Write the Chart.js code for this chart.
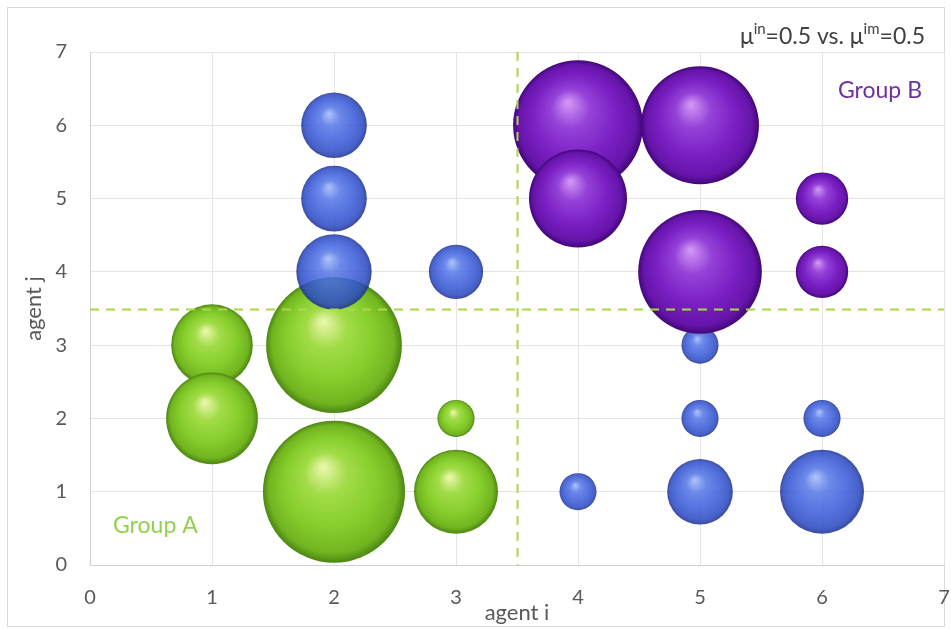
<!DOCTYPE html>
<html>
<head>
<meta charset="utf-8">
<script src="https://cdn.jsdelivr.net/npm/chart.js@4.4.0/dist/chart.umd.min.js"></script>
<style>
  html, body { margin: 0; padding: 0; background: #ffffff; }
  #wrap { width: 951px; height: 630px; }
</style>
</head>
<body>
<div id="wrap"><canvas id="c" width="951" height="630"></canvas></div>
<script>
// Group A (green): agent pairs inside group A
const groupAX = [1, 1, 2, 2, 3, 3];
const groupAY = [3, 2, 3, 1, 1, 2];
const groupAW = [34, 43, 94, 103, 36, 7];

// Cross-group pairs (blue)
const crossX = [2, 2, 2, 3, 4, 5, 6, 5, 6, 5];
const crossY = [6, 5, 4, 4, 1, 1, 1, 2, 2, 3];
const crossW = [22, 22, 29, 15, 7, 22, 36, 7, 7, 7];

// Group B (purple): agent pairs inside group B
const groupBX = [4, 5, 4, 5, 6, 6];
const groupBY = [6, 6, 5, 4, 5, 4];
const groupBW = [86, 71, 49, 78, 14, 14];

const axisTicks = [0, 1, 2, 3, 4, 5, 6, 7];
const splitX = 3.5;
const splitY = 3.5;
const muIn = 0.5;
const muIm = 0.5;

const FONT = 'Lato, "Open Sans", sans-serif';
const TEXT_GREY = '#595959';

// bubble area proportional to weight
function radiusOf(w) { return 7 * Math.sqrt(w); }

function points(xs, ys, ws) {
  return xs.map((x, i) => ({ x: x, y: ys[i], r: radiusOf(ws[i]) }));
}

// shaded sphere fill, centred on the bubble as placed by the scales
function sphereFill(pal) {
  return (ctx) => {
    if (ctx.type !== 'data' || !ctx.raw) return pal.base;
    const chart = ctx.chart;
    const sx = chart.scales.x, sy = chart.scales.y;
    if (!sx || !sy) return pal.base;
    const cx = sx.getPixelForValue(ctx.raw.x);
    const cy = sy.getPixelForValue(ctx.raw.y);
    const r = ctx.raw.r;
    if (!isFinite(cx) || !isFinite(cy) || !isFinite(r) || r <= 0) return pal.base;
    const g = chart.ctx.createRadialGradient(cx - 0.16 * r, cy - 0.36 * r, 0, cx, cy, r);
    g.addColorStop(0, pal.hi);
    g.addColorStop(0.3, pal.light);
    g.addColorStop(0.64, pal.base);
    g.addColorStop(0.9, pal.mid);
    g.addColorStop(1, pal.edge);
    return g;
  };
}

const greenPal  = { hi: '#eef8b0', light: '#a2dc48', base: '#86ce2c', mid: '#72b420', edge: '#4c8612' };
const bluePal   = { hi: 'rgba(160,186,248,0.85)', light: 'rgba(82,116,230,0.85)', base: 'rgba(56,90,218,0.85)', mid: 'rgba(40,70,192,0.85)', edge: 'rgba(24,44,140,0.85)' };
const purplePal = { hi: '#d69af6', light: '#9442d8', base: '#7b20c4', mid: '#6614aa', edge: '#420878' };

const framePlugin = {
  id: 'frame',
  beforeDraw(chart) {
    const c = chart.ctx;
    c.save();
    c.fillStyle = '#ffffff';
    c.fillRect(0, 0, chart.width, chart.height);
    c.strokeStyle = '#d9d9d9';
    c.lineWidth = 1;
    c.strokeRect(7.5, 7.5, chart.width - 14, chart.height - 11);
    c.restore();
  }
};

const overlayPlugin = {
  id: 'overlay',
  afterDatasetsDraw(chart) {
    const c = chart.ctx;
    const xs = chart.scales.x, ys = chart.scales.y;
    const a = chart.chartArea;
    c.save();
    // group boundaries
    c.strokeStyle = '#a9d84c';
    c.lineWidth = 2;
    c.setLineDash([9, 7]);
    const px = Math.round(xs.getPixelForValue(splitX)) + 0.5;
    const py = Math.round(ys.getPixelForValue(splitY)) + 0.5;
    c.beginPath();
    c.moveTo(a.left, py); c.lineTo(a.right, py);
    c.moveTo(px, a.top); c.lineTo(px, a.bottom);
    c.stroke();
    c.setLineDash([]);

    // group labels
    c.font = '23px ' + FONT;
    c.textBaseline = 'alphabetic';
    c.fillStyle = '#92d050';
    c.textAlign = 'left';
    c.fillText('Group A', a.left + 23, a.bottom - 32);
    c.fillStyle = '#7030a0';
    c.textAlign = 'right';
    c.fillText('Group B', a.right - 22, a.top + 46);

    // parameter note with superscripts
    const parts = [
      ['\u03bc', 23, 0], ['in', 15, -10], ['=' + muIn.toFixed(1) + ' vs. \u03bc', 23, 0], ['im', 15, -10], ['=' + muIm.toFixed(1), 23, 0]
    ];
    let total = 0;
    parts.forEach(p => { c.font = p[1] + 'px ' + FONT; total += c.measureText(p[0]).width; });
    let x = a.right - 19 - total;
    const base = 44;
    c.fillStyle = '#404040';
    c.textAlign = 'left';
    parts.forEach(p => {
      c.font = p[1] + 'px ' + FONT;
      c.fillText(p[0], x, base + p[2]);
      x += c.measureText(p[0]).width;
    });
    c.restore();
  }
};

const tickFont = { family: FONT, size: 20 };
const titleFont = { family: FONT, size: 22 };

new Chart(document.getElementById('c'), {
  type: 'bubble',
  data: {
    datasets: [
      { label: 'Group B', data: points(groupBX, groupBY, groupBW), backgroundColor: sphereFill(purplePal), borderWidth: 0, order: 0 },
      { label: 'Cross', data: points(crossX, crossY, crossW), backgroundColor: sphereFill(bluePal), borderWidth: 0, order: 1 },
      { label: 'Group A', data: points(groupAX, groupAY, groupAW), backgroundColor: sphereFill(greenPal), borderWidth: 0, order: 2 }
    ]
  },
  options: {
    responsive: false,
    animation: false,
    events: [],
    layout: { autoPadding: false, padding: { top: 52, right: 7, left: 0, bottom: 0 } },
    plugins: { legend: { display: false }, tooltip: { enabled: false } },
    scales: {
      x: {
        type: 'linear', min: 0, max: 7,
        afterBuildTicks(s) { s.ticks = axisTicks.map(v => ({ value: v })); },
        afterFit(s) { s.height = 65; s.paddingLeft = 0; s.paddingRight = 0; },
        grid: { color: '#e4e4e4', drawTicks: false },
        border: { color: '#d0d0d0' },
        ticks: { padding: 21, color: TEXT_GREY, font: tickFont },
        title: { display: true, text: 'agent i', color: TEXT_GREY, font: titleFont, padding: { top: 4, bottom: 4 } }
      },
      y: {
        type: 'linear', min: 0, max: 7,
        afterBuildTicks(s) { s.ticks = axisTicks.map(v => ({ value: v })); },
        afterFit(s) { s.width = 90; s.paddingTop = 0; s.paddingBottom = 0; },
        grid: { color: '#e4e4e4', drawTicks: false },
        border: { color: '#d0d0d0' },
        ticks: { padding: 23, color: TEXT_GREY, font: tickFont },
        title: { display: true, text: 'agent j', color: TEXT_GREY, font: titleFont, padding: { top: 21, bottom: 21 } }
      }
    }
  },
  plugins: [framePlugin, overlayPlugin]
});
</script>
</body>
</html>
